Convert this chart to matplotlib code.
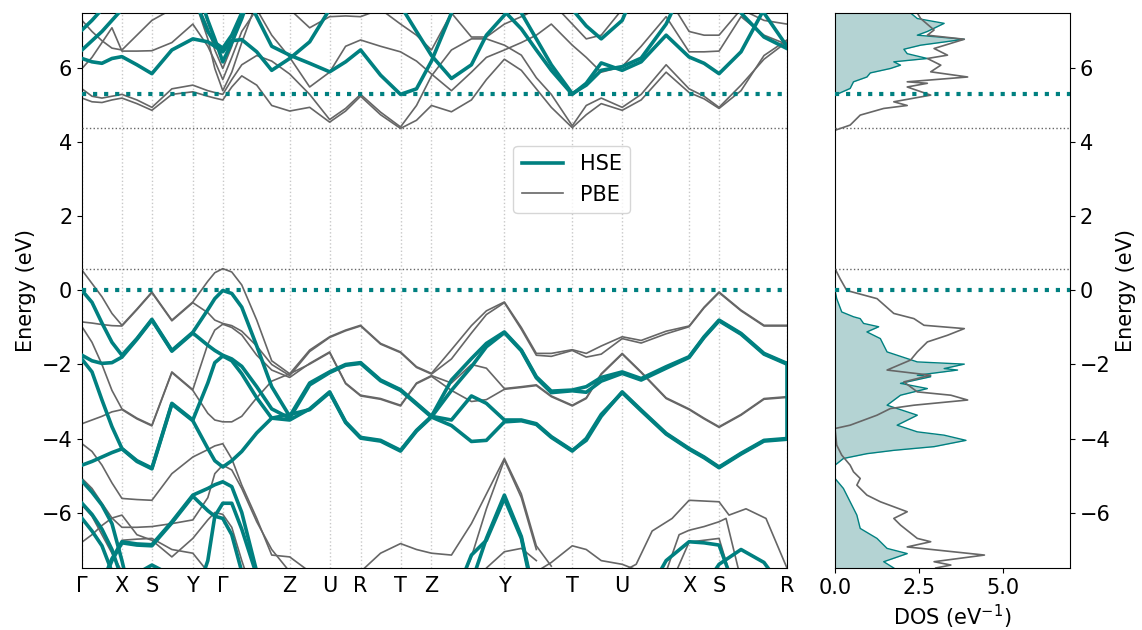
import numpy as np
import matplotlib
matplotlib.use('Agg')
import matplotlib.pyplot as plt

# k-path (distance units along the path)
ktick_pos = [0, 40, 70, 111, 141, 208, 248, 279, 319, 350, 423, 491, 541, 608, 638, 706]
ktick_lab = ['Γ', 'X', 'S', 'Y', 'Γ', 'Z', 'U', 'R', 'T', 'Z', 'Y', 'T', 'U', 'X', 'S', 'R']

# common k samples for the main bands
K = [0, 10, 20, 30, 40, 55, 70, 90, 111, 126,
     133, 141, 150, 160, 175, 190, 208, 228, 248, 264,
     279, 299, 319, 335, 350, 370, 390, 405, 423, 440,
     455, 470, 491, 505, 520, 541, 560, 585, 608, 623,
     638, 660, 683, 706]

# ---------------- HSE valence ----------------
hse_v1 = [0.00, -0.32, -0.88, -1.40, -1.75, -1.30, -0.78, -1.62, -1.13, -0.52,
          -0.22, 0.00, -0.08, -0.45, -1.50, -2.60, -3.40, -2.50, -2.20, -2.00,
          -1.95, -2.42, -2.68, -3.05, -3.40, -2.42, -1.84, -1.43, -1.12, -1.61,
          -2.33, -2.72, -2.69, -2.60, -2.35, -2.20, -2.38, -2.06, -1.79, -1.25,
          -0.80, -1.16, -1.70, -1.97]
hse_v2 = [-1.75, -1.90, -1.97, -1.95, -1.80, -1.32, -0.80, -1.64, -1.15, -1.48,
          -1.62, -1.75, -1.85, -2.05, -2.60, -3.20, -3.45, -2.55, -2.22, -2.02,
          -1.97, -2.44, -2.70, -3.07, -3.42, -2.70, -2.06, -1.52, -1.14, -1.63,
          -2.36, -2.76, -2.71, -2.75, -2.45, -2.24, -2.42, -2.10, -1.81, -1.27,
          -0.82, -1.18, -1.72, -1.99]
hse_v3 = [-1.86, -2.20, -2.96, -3.68, -4.27, -4.60, -4.80, -3.05, -3.50, -2.50,
          -1.95, -1.77, -1.90, -2.25, -2.90, -3.45, -3.50, -3.20, -2.74, -3.55,
          -3.97, -4.05, -4.32, -3.78, -3.40, -3.50, -2.85, -3.05, -3.50, -3.50,
          -3.60, -3.95, -4.32, -4.05, -3.40, -2.74, -3.23, -3.86, -4.27, -4.50,
          -4.77, -4.40, -4.05, -4.00]
hse_v4 = [-4.72, -4.62, -4.50, -4.38, -4.28, -4.62, -4.82, -3.07, -3.52, -4.27,
          -4.60, -4.77, -4.60, -4.35, -3.85, -3.45, -3.35, -3.22, -2.76, -3.57,
          -3.99, -4.07, -4.34, -3.80, -3.42, -3.65, -4.08, -4.05, -3.55, -3.52,
          -3.62, -3.97, -4.34, -4.00, -3.35, -2.76, -3.25, -3.88, -4.29, -4.52,
          -4.79, -4.42, -4.07, -4.02]

# HSE deeper bands: (k, E) pieces
hse_l1_k = [0, 10, 20, 30, 40, 55]
hse_l1_e = [-5.15, -5.45, -5.80, -6.30, -7.30, -9.0]
hse_l2_k = [0, 10, 20, 30, 40]
hse_l2_e = [-5.75, -6.05, -6.45, -7.00, -7.80]
hse_l3_k = [0, 10, 20, 30]
hse_l3_e = [-6.16, -6.50, -6.90, -7.60]
hse_l4_k = [20, 30, 40, 55, 70, 90, 111, 126, 133, 141, 150, 160, 175]
hse_l4_e = [-7.90, -7.25, -6.79, -6.85, -6.87, -6.25, -5.53, -5.35, -5.25, -5.17, -5.30, -6.00, -7.60]
hse_l5_k = [20, 30, 40, 55, 70, 90, 111, 126, 133, 141, 150, 160]
hse_l5_e = [-7.95, -7.30, -6.82, -6.88, -6.90, -6.28, -5.56, -5.95, -6.10, -6.16, -6.60, -7.60]
hse_l6_k = [111, 126, 133, 141, 150, 160, 175]
hse_l6_e = [-8.50, -7.30, -6.10, -5.75, -5.75, -6.45, -7.70]
hse_l7_k = [40, 55, 70, 90, 111]
hse_l7_e = [-8.2, -7.65, -7.42, -7.70, -8.5]
hse_l8_k = [390, 405, 423, 440, 455]
hse_l8_e = [-7.90, -6.70, -5.53, -6.65, -8.50]
hse_l9_k = [370, 390, 405, 423, 440, 455]
hse_l9_e = [-8.50, -7.15, -6.75, -5.62, -6.70, -8.60]
hse_l10_k = [560, 585, 608, 623, 638, 660]
hse_l10_e = [-8.50, -7.30, -6.79, -6.82, -6.88, -8.50]
hse_l11_k = [623, 638, 660, 683, 706]
hse_l11_e = [-8.00, -7.40, -7.00, -7.35, -8.20]

# HSE conduction
hse_c1_k = [0, 10, 20, 30, 40, 55, 70, 90, 111, 126, 133, 141, 150, 160, 175, 190, 208, 228, 248, 264]
hse_c1_e = [6.27, 6.18, 6.14, 6.27, 6.32, 6.10, 5.86, 6.50, 6.80, 6.72, 6.60, 6.45, 6.75, 6.78, 6.45,
            5.95, 6.27, 6.72, 7.60, 8.50]
hse_c2_k = [160, 175, 190, 208, 228, 248, 264, 279, 299, 319, 335, 350, 370, 390]
hse_c2_e = [8.20, 7.40, 6.60, 6.36, 6.14, 5.91, 6.18, 6.50, 5.82, 5.30, 5.45, 6.20, 7.50, 8.50]
hse_c3_k = [299, 319, 335, 350, 370, 390, 405, 423, 440]
hse_c3_e = [8.50, 7.70, 7.00, 6.35, 5.73, 6.10, 6.90, 7.44, 8.50]
hse_c4_k = [405, 423, 440, 455, 470, 491, 505, 520, 541, 560, 585, 608, 623, 638, 660, 683, 706]
hse_c4_e = [8.50, 7.55, 7.07, 6.50, 5.95, 5.30, 5.60, 6.15, 5.95, 6.18, 6.90, 6.31, 6.14, 5.86, 6.45, 7.60, 8.50]
hse_c5_k = [423, 440, 455, 470, 491, 505, 520, 541, 560, 585, 608]
hse_c5_e = [8.50, 7.50, 6.80, 6.10, 5.32, 5.55, 5.95, 6.05, 6.28, 7.20, 8.50]
hse_c6_k = [470, 491, 505, 520, 541, 560]
hse_c6_e = [8.50, 7.60, 7.15, 6.80, 7.30, 8.50]
hse_c7_k = [638, 660, 683, 706]
hse_c7_e = [8.50, 7.50, 6.85, 6.54]
hse_c8_k = [660, 683, 706]
hse_c8_e = [8.50, 7.50, 6.60]
hse_c9_k = [111, 126, 133, 141, 150, 160, 175]
hse_c9_e = [8.50, 7.30, 6.80, 6.18, 6.70, 7.35, 8.50]
hse_c10_k = [0, 10, 20, 30]
hse_c10_e = [7.04, 7.30, 7.60, 8.20]
hse_c11_k = [0, 10, 20, 30, 40, 55]
hse_c11_e = [6.50, 6.75, 7.00, 7.30, 7.60, 8.50]
hse_c12_k = [111, 126, 133, 141, 150, 160, 175]
hse_c12_e = [8.00, 7.00, 6.70, 6.55, 6.90, 7.50, 8.50]

# ---------------- PBE valence ----------------
pbe_v1 = [0.55, 0.19, -0.17, -0.62, -0.94, -0.50, -0.04, -0.80, -0.31, 0.25,
          0.48, 0.59, 0.50, 0.15, -0.80, -1.90, -2.25, -1.61, -1.25, -1.07,
          -0.94, -1.43, -1.66, -2.06, -2.24, -1.60, -0.95, -0.55, -0.31, -1.00,
          -1.70, -1.70, -1.60, -1.70, -1.50, -1.25, -1.35, -1.10, -0.96, -0.45,
          -0.04, -0.53, -0.94, -0.94]
pbe_v2 = [-0.85, -0.88, -0.92, -0.95, -0.96, -0.52, -0.06, -0.82, -0.33, -0.60,
          -0.80, -0.89, -0.95, -1.10, -1.50, -2.00, -2.30, -1.65, -1.27, -1.09,
          -0.96, -1.45, -1.68, -2.08, -2.26, -1.85, -1.15, -0.65, -0.33, -1.05,
          -1.75, -1.78, -1.62, -1.80, -1.72, -1.30, -1.42, -1.17, -0.98, -0.47,
          -0.06, -0.55, -0.96, -0.96]
pbe_v3 = [-0.98, -1.40, -2.00, -2.70, -3.20, -3.45, -3.64, -2.20, -2.68, -1.45,
          -1.07, -0.91, -1.00, -1.20, -1.75, -2.15, -2.35, -1.97, -1.66, -2.50,
          -2.83, -2.92, -3.10, -2.50, -2.30, -2.50, -2.00, -2.10, -2.65, -2.60,
          -2.55, -2.85, -3.10, -2.90, -2.25, -1.70, -2.20, -2.90, -3.20, -3.45,
          -3.68, -3.35, -2.92, -2.87]
pbe_v4 = [-3.60, -3.50, -3.40, -3.28, -3.22, -3.47, -3.66, -2.22, -2.70, -3.32,
          -3.50, -3.55, -3.55, -3.40, -2.90, -2.45, -2.25, -1.99, -1.68, -2.52,
          -2.85, -2.94, -3.12, -2.52, -2.32, -2.70, -3.00, -2.95, -2.67, -2.62,
          -2.57, -2.87, -3.12, -2.92, -2.27, -1.72, -2.22, -2.92, -3.22, -3.47,
          -3.70, -3.37, -2.94, -2.89]

pbe_l1_k = [0, 10, 20, 30, 40, 55, 70, 90, 111, 126, 133, 141, 150, 160, 175, 190, 208, 228]
pbe_l1_e = [-4.14, -4.35, -4.72, -5.20, -5.62, -5.65, -5.67, -4.95, -4.50, -4.30, -4.20, -4.14, -4.55,
            -5.26, -6.16, -7.15, -7.20, -7.60]
pbe_l2_k = [0, 10, 20, 30, 40, 55, 70, 90, 111, 126, 133, 141, 150, 160, 175, 190, 208]
pbe_l2_e = [-5.08, -5.35, -5.75, -6.15, -6.40, -6.40, -6.38, -6.30, -6.20, -5.60, -4.95, -4.72, -4.85,
            -5.35, -6.25, -7.00, -7.60]
pbe_l3_k = [0, 10, 20, 30, 40, 55, 70, 90, 111, 126, 133, 141, 150, 160, 175]
pbe_l3_e = [-6.80, -6.60, -6.35, -6.15, -6.07, -6.60, -6.75, -7.20, -6.70, -6.20, -6.00, -6.05, -6.40,
            -7.30, -8.50]
pbe_l4_k = [0, 10, 20, 30, 40]
pbe_l4_e = [-5.80, -6.10, -6.60, -7.10, -7.60]
pbe_l5_k = [20, 30, 40, 55, 70, 90, 111, 126]
pbe_l5_e = [-8.00, -7.30, -6.75, -6.72, -6.70, -7.00, -7.10, -7.60]
pbe_l6_k = [279, 299, 319, 335, 350, 370, 390, 405, 423, 440, 455, 470]
pbe_l6_e = [-7.60, -7.10, -6.84, -7.00, -7.10, -7.15, -6.30, -5.50, -4.54, -5.50, -6.90, -7.45]
pbe_l7_k = [370, 390, 405, 423, 440, 455]
pbe_l7_e = [-8.50, -7.20, -5.90, -4.58, -5.60, -7.00]
pbe_l8_k = [390, 405, 423, 440, 455]
pbe_l8_e = [-8.50, -7.50, -7.06, -6.97, -7.30]
pbe_l9_k = [455, 470, 491, 505, 520, 541, 560]
pbe_l9_e = [-7.60, -7.35, -6.90, -7.00, -7.30, -7.40, -7.60]
pbe_l10_k = [541, 555, 571, 591, 608, 638, 648, 665, 685, 706]
pbe_l10_e = [-7.60, -7.40, -6.50, -6.16, -5.67, -5.71, -6.07, -5.90, -6.16, -7.50]
pbe_l11_k = [585, 598, 608, 623, 638, 645, 658]
pbe_l11_e = [-7.60, -6.60, -6.48, -6.38, -6.25, -6.16, -7.60]
pbe_l12_k = [595, 608, 638, 648]
pbe_l12_e = [-7.60, -6.80, -6.70, -7.60]

# ---------------- PBE conduction ----------------
pbe_c1 = [5.20, 5.10, 5.08, 5.15, 5.20, 5.05, 4.87, 5.30, 5.37, 5.25,
          5.20, 5.15, 5.50, 5.80, 5.55, 5.00, 4.85, 4.95, 4.55, 4.85,
          5.25, 4.75, 4.38, 4.60, 5.00, 4.83, 5.15, 5.70, 6.25, 5.95,
          5.45, 4.95, 4.40, 4.75, 5.05, 4.87, 5.15, 5.90, 5.35, 5.18,
          4.92, 5.40, 6.35, 6.77]
pbe_c2 = [5.45, 5.25, 5.20, 5.25, 5.30, 5.15, 4.95, 5.45, 5.55, 5.40,
          5.35, 5.30, 5.70, 6.10, 6.35, 6.20, 5.85, 5.30, 4.62, 4.92,
          5.30, 4.82, 4.42, 5.00, 5.80, 6.50, 6.80, 6.80, 6.63, 6.36,
          5.75, 5.30, 4.45, 5.00, 5.20, 4.95, 5.30, 6.10, 5.45, 5.25,
          4.95, 5.55, 6.25, 6.72]
pbe_c3 = [6.00, 6.30, 6.70, 7.10, 6.47, 6.47, 6.48, 6.70, 7.20, 6.60,
          6.20, 5.70, 6.30, 7.00, 7.60, 6.90, 6.30, 5.50, 5.90, 6.60,
          6.77, 6.60, 6.45, 6.20, 5.85, 5.40, 5.90, 6.30, 6.50, 6.70,
          6.90, 7.20, 6.63, 6.30, 5.90, 6.05, 6.60, 7.40, 6.45, 6.45,
          6.47, 7.40, 6.90, 6.65]
pbe_c4 = [7.30, 7.00, 6.75, 6.55, 6.50, 6.90, 7.30, 7.60, 8.00, 7.10,
          6.50, 6.00, 6.60, 7.50, 8.20, 8.00, 7.60, 7.10, 7.40, 7.42,
          7.40, 7.60, 7.20, 6.90, 6.50, 7.50, 6.85, 6.85, 7.20, 7.40,
          7.60, 7.80, 7.20, 6.80, 6.90, 7.60, 7.90, 8.00, 7.00, 6.90,
          6.90, 7.60, 7.30, 7.20]
pbe_c5_k = [111, 126, 133, 141, 150, 160, 175]
pbe_c5_e = [8.00, 6.80, 6.00, 5.40, 5.90, 6.70, 7.80]

# band edges
hse_vbm, hse_cbm = 0.0, 5.30
pbe_vbm, pbe_cbm = 0.59, 4.38

# ---------------- DOS ----------------
dos_hse_vb_e = [0.0, -0.22, -0.58, -0.71, -0.76, -0.89, -0.98, -1.12, -1.30, -1.66, -1.84, -1.93,
                -1.99, -2.11, -2.15, -2.29, -2.33, -2.51, -2.65, -2.83, -3.10, -3.37, -3.64, -3.82,
                -3.91, -4.05, -4.22, -4.32, -4.41, -4.54, -4.72, -5.08, -5.35, -5.71, -6.07, -6.43,
                -6.70, -6.97, -7.11, -7.33, -7.50]
dos_hse_vb = [0.0, 0.05, 0.20, 0.55, 0.75, 0.85, 1.30, 0.95, 1.35, 1.55, 2.15, 2.45,
              3.85, 3.25, 3.65, 2.45, 2.85, 1.95, 2.75, 1.95, 1.55, 2.45, 1.85, 2.45,
              3.25, 3.90, 2.95, 1.75, 0.95, 0.25, 0.0, 0.0, 0.25, 0.45, 0.65, 0.75,
              1.25, 1.55, 2.15, 1.45, 1.75]
dos_hse_cb_e = [5.28, 5.46, 5.64, 5.77, 5.88, 6.00, 6.09, 6.18, 6.27, 6.40, 6.52, 6.63, 6.79, 6.90,
                7.00, 7.22, 7.35, 7.50]
dos_hse_cb = [0.0, 0.45, 0.55, 0.95, 1.05, 1.65, 1.95, 1.75, 2.75, 2.15, 2.05, 2.55, 3.85, 2.45,
              2.75, 3.25, 2.45, 2.25]
dos_pbe_cb_e = [4.33, 4.47, 4.74, 4.92, 5.00, 5.10, 5.28, 5.50, 5.60, 5.64, 5.77, 5.91, 6.09, 6.27,
                6.36, 6.54, 6.79, 6.90, 7.04, 7.35, 7.50]
dos_pbe_cb = [0.0, 0.45, 0.75, 1.45, 2.15, 1.75, 2.85, 2.15, 2.75, 2.15, 3.95, 2.85, 3.15, 2.75,
              3.35, 2.95, 3.85, 2.75, 2.95, 2.55, 2.45]
dos_pbe_vb_e = [0.59, 0.32, 0.0, -0.22, -0.62, -0.76, -0.94, -1.03, -1.21, -1.39, -1.66, -1.88,
                -2.15, -2.29, -2.47, -2.74, -2.83, -2.96, -3.10, -3.19, -3.37, -3.64, -3.73, -4.18,
                -4.45, -4.72, -4.90, -5.08, -5.26, -5.53, -5.71, -5.98, -6.16, -6.34, -6.70, -6.79,
                -6.93, -7.15, -7.33, -7.42, -7.50]
dos_pbe_vb = [0.0, 0.15, 0.35, 1.25, 1.75, 2.35, 2.65, 3.85, 3.35, 2.75, 2.45, 2.25,
              1.55, 2.85, 2.05, 2.45, 3.45, 3.95, 2.35, 1.65, 1.25, 0.45, 0.0, 0.05,
              0.20, 0.45, 0.55, 0.75, 0.65, 0.95, 1.35, 2.15, 1.75, 1.95, 2.45, 2.85,
              2.15, 4.45, 2.95, 3.45, 3.00]

teal = '#008080'
grey = '#666666'
fill_col = '#b4d3d3'
fs = 15

hse_main = [hse_v1, hse_v2, hse_v3, hse_v4]
hse_parts = [(hse_l1_k, hse_l1_e), (hse_l2_k, hse_l2_e), (hse_l3_k, hse_l3_e), (hse_l4_k, hse_l4_e),
             (hse_l5_k, hse_l5_e), (hse_l6_k, hse_l6_e), (hse_l7_k, hse_l7_e), (hse_l8_k, hse_l8_e),
             (hse_l9_k, hse_l9_e), (hse_l10_k, hse_l10_e), (hse_l11_k, hse_l11_e),
             (hse_c1_k, hse_c1_e), (hse_c2_k, hse_c2_e), (hse_c3_k, hse_c3_e), (hse_c4_k, hse_c4_e),
             (hse_c5_k, hse_c5_e), (hse_c6_k, hse_c6_e), (hse_c7_k, hse_c7_e), (hse_c8_k, hse_c8_e),
             (hse_c9_k, hse_c9_e), (hse_c10_k, hse_c10_e), (hse_c11_k, hse_c11_e), (hse_c12_k, hse_c12_e)]
pbe_main = [pbe_v1, pbe_v2, pbe_v3, pbe_v4, pbe_c1, pbe_c2, pbe_c3, pbe_c4]
pbe_parts = [(pbe_l1_k, pbe_l1_e), (pbe_l2_k, pbe_l2_e), (pbe_l3_k, pbe_l3_e), (pbe_l4_k, pbe_l4_e),
             (pbe_l5_k, pbe_l5_e), (pbe_l6_k, pbe_l6_e), (pbe_l7_k, pbe_l7_e), (pbe_l8_k, pbe_l8_e),
             (pbe_l9_k, pbe_l9_e), (pbe_l10_k, pbe_l10_e), (pbe_l11_k, pbe_l11_e), (pbe_l12_k, pbe_l12_e),
             (pbe_c5_k, pbe_c5_e)]

fig = plt.figure(figsize=(11.42, 6.3), dpi=100)
ax = fig.add_axes([0.0718, 0.0984, 0.6173, 0.881])
ax2 = fig.add_axes([0.7312, 0.0984, 0.2058, 0.881])

for kp in ktick_pos:
    ax.axvline(kp, color='#c8c8c8', ls=':', lw=1, zorder=0)

for b in pbe_main:
    ax.plot(K, b, color=grey, lw=1.2, zorder=2)
for kk, ee in pbe_parts:
    ax.plot(kk, ee, color=grey, lw=1.2, zorder=2)
for b in hse_main:
    ax.plot(K, b, color=teal, lw=2.6, zorder=3)
for kk, ee in hse_parts:
    ax.plot(kk, ee, color=teal, lw=2.6, zorder=3)
# closing segment on the R edge
ax.plot([K[-1], K[-1]], [hse_v1[-1], hse_v4[-1]], color=teal, lw=2.6, zorder=3)

for a in (ax, ax2):
    a.axhline(hse_vbm, color=teal, ls=':', lw=3, zorder=4)
    a.axhline(hse_cbm, color=teal, ls=':', lw=3, zorder=4)
    a.axhline(pbe_vbm, color=grey, ls=':', lw=1, zorder=4)
    a.axhline(pbe_cbm, color=grey, ls=':', lw=1, zorder=4)
    a.set_ylim(-7.5, 7.5)
    a.set_yticks([-6, -4, -2, 0, 2, 4, 6])
    a.tick_params(labelsize=fs)

ax.set_xlim(0, 706)
ax.set_xticks(ktick_pos)
ax.set_xticklabels(ktick_lab, fontsize=fs)
ax.tick_params(axis='x', length=0, pad=6)
ax.set_ylabel('Energy (eV)', fontsize=fs)

ax.plot([], [], color=teal, lw=2.6, label='HSE')
ax.plot([], [], color=grey, lw=1.2, label='PBE')
ax.legend(loc='center', bbox_to_anchor=(0.695, 0.70), fontsize=fs)

# DOS panel
ax2.fill_betweenx(dos_hse_vb_e, 0, dos_hse_vb, color=fill_col, lw=0)
ax2.fill_betweenx(dos_hse_cb_e, 0, dos_hse_cb, color=fill_col, lw=0)
ax2.plot(dos_hse_vb, dos_hse_vb_e, color=teal, lw=1)
ax2.plot(dos_hse_cb, dos_hse_cb_e, color=teal, lw=1)
ax2.plot(dos_pbe_vb, dos_pbe_vb_e, color=grey, lw=1.2)
ax2.plot(dos_pbe_cb, dos_pbe_cb_e, color=grey, lw=1.2)
ax2.set_xlim(0, 7.0)
ax2.set_xticks([0, 2.5, 5.0])
ax2.set_xticklabels(['0.0', '2.5', '5.0'])
ax2.yaxis.tick_right()
ax2.yaxis.set_label_position('right')
ax2.set_ylabel('Energy (eV)', fontsize=fs)
ax2.set_xlabel('DOS (eV$^{-1}$)', fontsize=fs)

fig.savefig('out.png', dpi=100)
